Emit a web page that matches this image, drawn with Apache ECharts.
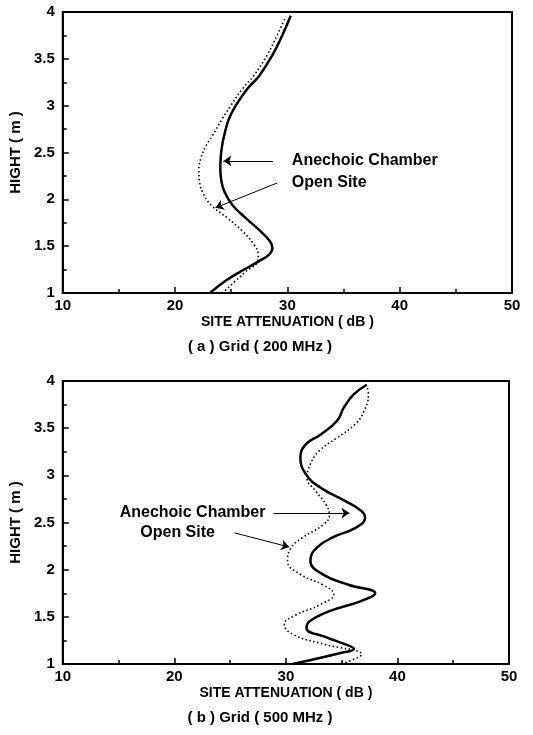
<!DOCTYPE html>
<html>
<head>
<meta charset="utf-8">
<script src="https://cdn.jsdelivr.net/npm/echarts@6/dist/echarts.min.js"></script>
<style>
  html, body { margin: 0; padding: 0; background: #fff; }
  #main { width: 533px; height: 735px; }
</style>
</head>
<body>
<div id="main"></div>
<script>
// (a) Grid 200 MHz  -- height (m) / site attenuation (dB)
const topChamberH  = [1.0, 1.13, 1.23, 1.34, 1.41, 1.48, 1.55, 1.66, 1.80, 1.94, 2.08, 2.2, 2.32, 2.44, 2.56, 2.68, 2.86, 3.0, 3.18, 3.32, 3.54, 3.755, 3.96];
const topChamberDb = [23.1, 24.5, 25.85, 27.48, 28.37, 28.67, 28.46, 27.6, 26.3, 25.1, 24.4, 24.12, 24.03, 24.06, 24.17, 24.37, 24.8, 25.4, 26.44, 27.5, 28.67, 29.56, 30.3];
const topOpenH  = [1.0, 1.13, 1.23, 1.34, 1.41, 1.52, 1.66, 1.80, 1.94, 2.08, 2.2, 2.32, 2.44, 2.56, 2.68, 2.86, 3.0, 3.18, 3.32, 3.54, 3.755, 3.95];
const topOpenDb = [24.2, 25.4, 26.3, 27.35, 27.4, 27.0, 26.0, 24.67, 23.2, 22.44, 22.17, 22.12, 22.3, 22.7, 23.33, 24.2, 24.96, 26.0, 27.0, 28.2, 29.1, 29.85];

// (b) Grid 500 MHz
const bottomChamberH  = [1.0, 1.12, 1.16, 1.21, 1.28, 1.38, 1.45, 1.56, 1.67, 1.75, 1.84, 1.95, 2.09, 2.2, 2.34, 2.44, 2.55, 2.62, 2.73, 2.87, 3.01, 3.19, 3.33, 3.43, 3.58, 3.72, 3.86, 3.96];
const bottomChamberDb = [30.6, 35.0, 36.1, 35.3, 33.7, 31.85, 32.1, 33.9, 36.8, 38.0, 35.6, 33.3, 32.2, 32.5, 34.15, 36.2, 37.1, 36.8, 35.3, 33.1, 31.8, 31.3, 31.8, 33.1, 34.6, 35.2, 36.1, 37.25];
const bottomOpenH  = [1.0, 1.05, 1.1, 1.21, 1.31, 1.42, 1.52, 1.63, 1.74, 1.84, 1.95, 2.09, 2.23, 2.34, 2.48, 2.58, 2.69, 2.83, 2.97, 3.12, 3.26, 3.40, 3.54, 3.68, 3.86, 3.96];
const bottomOpenDb = [35.0, 36.1, 36.8, 33.4, 30.7, 29.85, 30.9, 33.1, 34.3, 33.3, 31.3, 30.15, 30.45, 31.5, 33.4, 33.9, 33.6, 32.7, 31.9, 32.2, 33.0, 34.6, 36.2, 37.0, 37.4, 37.2];

// axis ticks
const xMin = 10, xMax = 50, xStep = 10;
const yMin = 1, yMax = 4, yStep = 0.5;

const FONT = '"Liberation Sans", Arial, Helvetica, sans-serif';

function pairs(xs, ys) {
  return xs.map((x, i) => [x, ys[i]]);
}

function xAxisOf(i) {
  return {
    gridIndex: i,
    type: 'value',
    min: xMin, max: xMax, interval: xStep,
    name: 'SITE ATTENUATION ( dB )',
    nameLocation: 'middle',
    nameGap: 22,
    nameTextStyle: { color: '#000', fontFamily: FONT, fontWeight: 'bold', fontSize: 14 },
    axisLine: { lineStyle: { color: '#000', width: 2 } },
    axisTick: { inside: true, length: 6, lineStyle: { color: '#000', width: 1.5 } },
    minorTick: { show: true, splitNumber: 2, length: 4, lineStyle: { color: '#000', width: 1.5 } },
    axisLabel: { color: '#000', fontFamily: FONT, fontWeight: 'bold', fontSize: 15, margin: 5 },
    splitLine: { show: false }
  };
}

function yAxisOf(i) {
  return {
    gridIndex: i,
    type: 'value',
    min: yMin, max: yMax, interval: yStep,
    name: 'HIGHT ( m )',
    nameLocation: 'middle',
    nameRotate: 90,
    nameGap: 38,
    nameTextStyle: { color: '#000', fontFamily: FONT, fontWeight: 'bold', fontSize: 15 },
    axisLine: { lineStyle: { color: '#000', width: 2 } },
    axisTick: { inside: true, length: 6, lineStyle: { color: '#000', width: 1.5 } },
    minorTick: { show: true, splitNumber: 2, length: 4, lineStyle: { color: '#000', width: 1.5 } },
    axisLabel: { color: '#000', fontFamily: FONT, fontWeight: 'bold', fontSize: 15, margin: 8 },
    splitLine: { show: false }
  };
}

function curve(i, data, dotted) {
  return {
    type: 'line',
    xAxisIndex: i, yAxisIndex: i,
    data: data,
    smooth: 0.45,
    showSymbol: false,
    silent: true,
    lineStyle: dotted
      ? { color: '#000', width: 1.6, type: [1.5, 2.5] }
      : { color: '#000', width: 2.5, join: 'round' }
  };
}

// annotation texts + arrows, in data units
function notes(i, texts, arrows) {
  return {
    type: 'scatter',
    xAxisIndex: i, yAxisIndex: i,
    symbolSize: 0,
    silent: true,
    itemStyle: { opacity: 1 },
    data: texts,
    label: {
      show: true, position: 'right', distance: 0,
      formatter: p => p.data[2],
      color: '#000', opacity: 1, fontFamily: FONT, fontWeight: 'bold', fontSize: 16
    },
    markLine: {
      silent: true,
      symbol: ['none', 'arrow'],
      symbolSize: 8,
      label: { show: false },
      lineStyle: { color: '#000', width: 1, type: 'solid', opacity: 1 },
      data: arrows.map(a => [{ coord: a[0] }, { coord: a[1] }])
    }
  };
}

const option = {
  animation: false,
  backgroundColor: '#fff',
  grid: [
    { left: 62, top: 12, width: 450, height: 281, show: true, borderColor: '#000', borderWidth: 2 },
    { left: 60, top: 381, width: 449, height: 283, show: true, borderColor: '#000', borderWidth: 2 }
  ],
  xAxis: [xAxisOf(0), xAxisOf(1)],
  yAxis: [yAxisOf(0), yAxisOf(1)],
  graphic: [
    { type: 'text', x: 260, y: 347, style: { text: '( a ) Grid ( 200 MHz )', align: 'center', verticalAlign: 'middle', font: 'bold 15px ' + FONT, fill: '#000' } },
    { type: 'text', x: 260, y: 718, style: { text: '( b ) Grid ( 500 MHz )', align: 'center', verticalAlign: 'middle', font: 'bold 15px ' + FONT, fill: '#000' } }
  ],
  series: [
    curve(0, pairs(topChamberDb, topChamberH), false),
    curve(0, pairs(topOpenDb, topOpenH), true),
    curve(1, pairs(bottomChamberDb, bottomChamberH), false),
    curve(1, pairs(bottomOpenDb, bottomOpenH), true),
    notes(0,
      [[30.4, 2.41, 'Anechoic Chamber'], [30.4, 2.18, 'Open Site']],
      [[[28.7, 2.41], [24.3, 2.41]], [[29.1, 2.175], [23.6, 1.91]]]),
    notes(1,
      [[15.1, 2.61, 'Anechoic Chamber'], [16.95, 2.39, 'Open Site']],
      [[[28.9, 2.6], [35.7, 2.6]], [[25.4, 2.39], [30.3, 2.24]]])
  ]
};

const chart = echarts.init(document.getElementById('main'));
chart.setOption(option);
</script>
</body>
</html>
